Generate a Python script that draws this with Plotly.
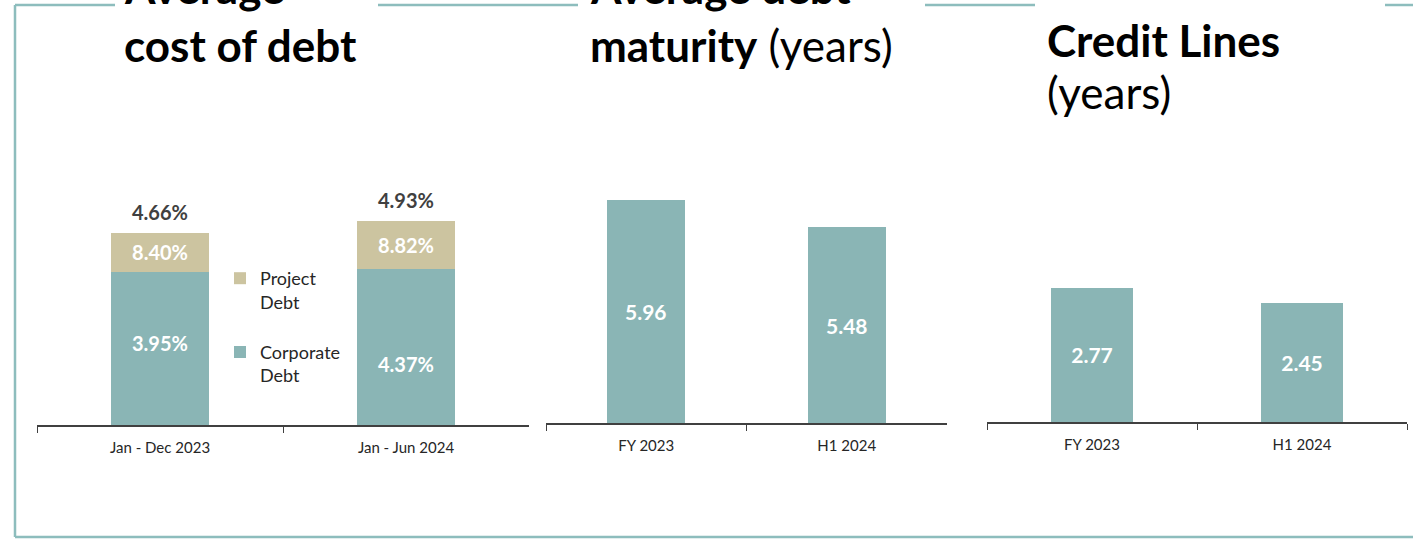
import plotly.graph_objects as go

W, H = 1413, 539

# ---------------- data ----------------
cost_periods = ["Jan - Dec 2023", "Jan - Jun 2024"]
cost_total = [4.66, 4.93]                 # weighted average cost of debt (%)
corporate_share = [3.70, 3.79]            # bar segment heights
project_share = [0.96, 1.14]
corporate_rate_labels = ["3.95%", "4.37%"]
project_rate_labels = ["8.40%", "8.82%"]

maturity_periods = ["FY 2023", "H1 2024"]
maturity_years = [5.96, 5.48]
maturity_axis_min = 2.0

credit_periods = ["FY 2023", "H1 2024"]
credit_years = [2.77, 2.45]

# ---------------- style ----------------
TEAL = "#8AB5B5"
BEIGE = "#CCC4A0"
FRAME = "#8DBDBD"
DARK = "#262626"
GREY = "#404040"
FONT = "Lato"


def px(xp):
    return xp / W


def py(yp):
    return 1 - yp / H


fig = go.Figure()

# Panel 1: stacked bars
fig.add_trace(go.Bar(
    x=cost_periods, y=corporate_share, name="Corporate<br>Debt",
    marker=dict(color=TEAL, line=dict(width=0)), width=0.4,
    xaxis="x", yaxis="y", legendrank=2, legendgroup="corp",
    hoverinfo="skip",
))
fig.add_trace(go.Bar(
    x=cost_periods, y=project_share, name="Project<br>Debt",
    marker=dict(color=BEIGE, line=dict(width=0)), width=0.4,
    text=project_rate_labels, textposition="inside", insidetextanchor="middle",
    textfont=dict(family=FONT, size=20, color="white", weight="bold"),
    xaxis="x", yaxis="y", legendrank=1, legendgroup="proj",
    hoverinfo="skip",
))

# Panel 2
fig.add_trace(go.Bar(
    x=maturity_periods, y=maturity_years, showlegend=False,
    marker=dict(color=TEAL, line=dict(width=0)), width=0.387,
    xaxis="x2", yaxis="y2", hoverinfo="skip",
))

# Panel 3
fig.add_trace(go.Bar(
    x=credit_periods, y=credit_years, showlegend=False,
    marker=dict(color=TEAL, line=dict(width=0)), width=0.386,
    text=[f"{v:.2f}" for v in credit_years], textposition="inside",
    insidetextanchor="middle",
    textfont=dict(family=FONT, size=21, color="white", weight="bold"),
    xaxis="x3", yaxis="y3", hoverinfo="skip",
))

annotations = []
# corporate labels and totals
corp_shift = [6, -17]
for i, p in enumerate(cost_periods):
    annotations.append(dict(
        x=p, y=corporate_share[i] / 2, xref="x", yref="y",
        text=f"<b>{corporate_rate_labels[i]}</b>", showarrow=False,
        yshift=corp_shift[i],
        font=dict(family=FONT, size=20, color="white"),
    ))
    annotations.append(dict(
        x=p, y=cost_total[i], xref="x", yref="y",
        text=f"<b>{cost_total[i]:.2f}%</b>", showarrow=False,
        yanchor="middle", yshift=21,
        font=dict(family=FONT, size=20, color=GREY),
    ))

# maturity labels, centred in the visible part of the bar
for p, v in zip(maturity_periods, maturity_years):
    annotations.append(dict(
        x=p, y=(maturity_axis_min + v) / 2, xref="x2", yref="y2",
        text=f"<b>{v:.2f}</b>", showarrow=False,
        font=dict(family=FONT, size=21, color="white"),
    ))

# titles
TFS = 44
titles = [
    (122, -13, "<b>Average</b>"),
    (122, 45, "<b>cost of debt</b>"),
    (588, -13, "<b>Average debt</b>"),
    (588, 45, "<b>maturity</b> (years)"),
    (1045, 40, "<b>Credit Lines</b>"),
    (1045, 92, "(years)"),
]
for x0, y0, t in titles:
    annotations.append(dict(
        x=px(x0), y=py(y0), xref="paper", yref="paper",
        xanchor="left", yanchor="middle", text=t, showarrow=False,
        font=dict(family=FONT, size=TFS, color="black"),
    ))

# frame decoration
shapes = []
seg = dict(type="line", xref="paper", yref="paper",
           line=dict(color=FRAME, width=2.5), layer="below")
shapes.append({**seg, "x0": px(15), "x1": px(15), "y0": py(5), "y1": py(537)})
shapes.append({**seg, "x0": px(15), "x1": px(1413), "y0": py(537), "y1": py(537)})
for a, b in [(15, 115), (378, 578), (925, 1035), (1385, 1413)]:
    shapes.append({**seg, "x0": px(a), "x1": px(b), "y0": py(5), "y1": py(5)})

xcommon = dict(
    type="category", showline=True, linecolor=GREY, linewidth=1.5,
    ticks="outside", tickson="boundaries", ticklen=6, tickcolor=GREY,
    tickwidth=1.2, showgrid=False, zeroline=False, fixedrange=True,
    tickfont=dict(family=FONT, size=15, color=DARK), range=[-0.5, 1.5],
    ticklabelstandoff=8,
)
ycommon = dict(visible=False, showgrid=False, zeroline=False, fixedrange=True)

fig.update_layout(
    width=W, height=H,
    margin=dict(l=0, r=0, t=0, b=0),
    paper_bgcolor="white", plot_bgcolor="white",
    barmode="stack",
    font=dict(family=FONT, color=DARK),
    xaxis=dict(**xcommon, domain=[px(37), px(529)], anchor="y"),
    yaxis=dict(**ycommon, domain=[py(425), py(150)], range=[0, 6.66], anchor="x"),
    xaxis2=dict(**xcommon, domain=[px(546), px(947)], anchor="y2"),
    yaxis2=dict(**ycommon, domain=[py(423), py(150)],
                range=[maturity_axis_min, 6.853], anchor="x2"),
    xaxis3=dict(**xcommon, domain=[px(987), px(1407)], anchor="y3"),
    yaxis3=dict(**ycommon, domain=[py(422), py(150)], range=[0, 5.614], anchor="x3"),
    showlegend=True,
    legend=dict(
        x=px(220), y=py(260), xanchor="left", yanchor="top",
        traceorder="grouped", tracegroupgap=24,
        font=dict(family=FONT, size=18, color=DARK),
        bgcolor="rgba(0,0,0,0)", valign="top", itemwidth=30,
    ),
    annotations=annotations,
    shapes=shapes,
)

fig.write_html(
    "out.html",
    config=dict(displayModeBar=False),
    post_script="document.body.style.margin='0';document.body.style.overflow='hidden';",
)
